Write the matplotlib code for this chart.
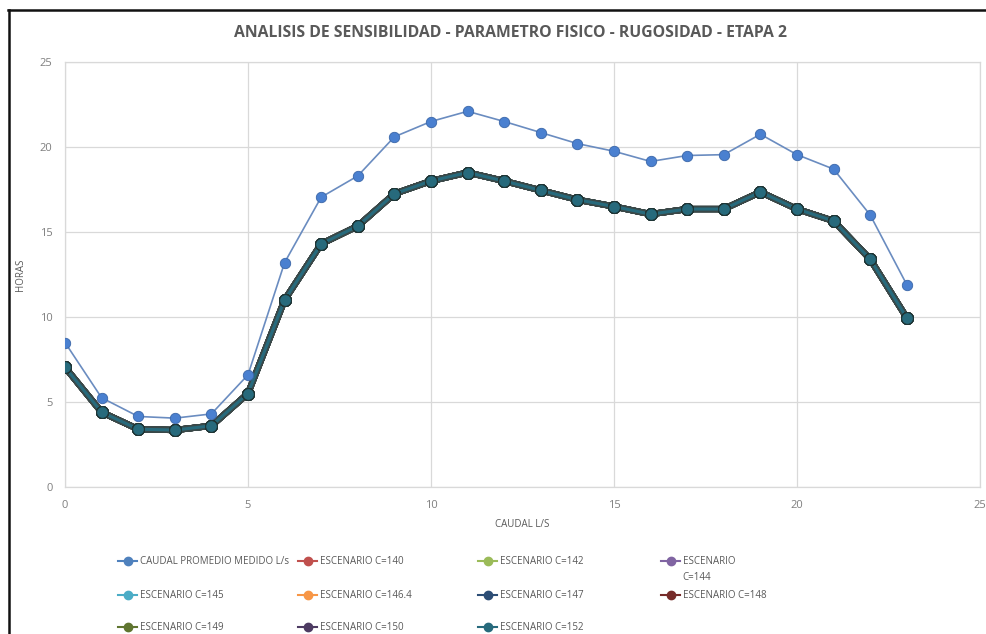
import matplotlib
matplotlib.use('Agg')
import matplotlib.pyplot as plt
from matplotlib.lines import Line2D
import matplotlib.patheffects as pe

plt.rcParams['font.family'] = ['Open Sans', 'DejaVu Sans']

# data
horas = list(range(24))
caudal_medido = [8.5, 5.25, 4.15, 4.05, 4.3, 6.6, 13.2, 17.05, 18.3, 20.6, 21.5, 22.1,
                 21.5, 20.85, 20.2, 19.75, 19.15, 19.5, 19.55, 20.75, 19.55, 18.7, 16.0, 11.9]
# all scenarios overlap in the picture
escenario = [7.05, 4.4, 3.4, 3.35, 3.6, 5.5, 11.0, 14.3, 15.35, 17.25, 18.0, 18.5,
             18.0, 17.45, 16.9, 16.5, 16.05, 16.35, 16.35, 17.35, 16.35, 15.65, 13.4, 9.95]
escenario_labels = ['ESCENARIO C=140', 'ESCENARIO C=142', 'ESCENARIO\nC=144',
                    'ESCENARIO C=145', 'ESCENARIO C=146.4', 'ESCENARIO C=147',
                    'ESCENARIO C=148', 'ESCENARIO C=149', 'ESCENARIO C=150',
                    'ESCENARIO C=152']
escenario_colors = ['#C0504D', '#9BBB59', '#8064A2', '#4BACC6', '#F79646',
                    '#2C4D75', '#772C2A', '#5F7530', '#4D3B62', '#276A7C']

fig = plt.figure(figsize=(9.86, 6.34), dpi=100)
ax = fig.add_axes([65 / 986, 1 - 487 / 634, 915 / 986, 425 / 634])

gray = '#7f7f7f'

ax.plot(horas, caudal_medido, color='#6a8cc0', lw=1.2, marker='o', ms=7.5,
        markerfacecolor='#4a80d0', markeredgecolor='#3a66a8', markeredgewidth=0.6,
        zorder=4)

for lab, col in zip(escenario_labels, escenario_colors):
    ax.plot(horas, escenario, color=col, lw=2.2,
            path_effects=[pe.Stroke(linewidth=4.5, foreground='#3a4848'), pe.Normal()],
            zorder=3)
for lab, col in zip(escenario_labels, escenario_colors):
    ax.plot(horas, escenario, ls='none', marker='o', ms=8.5,
            markerfacecolor=col, markeredgecolor='#1f3535', markeredgewidth=0.8,
            zorder=3.5)

ax.set_xlim(0, 25)
ax.set_ylim(0, 25)
ax.set_xticks([0, 5, 10, 15, 20, 25])
ax.set_yticks([0, 5, 10, 15, 20, 25])
ax.grid(True, color='#d9d9d9', lw=0.9)
ax.set_axisbelow(True)
for s in ax.spines.values():
    s.set_color('#d9d9d9')
    s.set_linewidth(0.9)
ax.tick_params(length=0, colors=gray, labelsize=8, pad=9)
ax.set_xlabel('CAUDAL L/S', color='#595959', fontsize=7, labelpad=6)
ax.set_ylabel('HORAS', color='#595959', fontsize=7, labelpad=10)

fig.text(0.518, 1 - 33 / 634, 'ANALISIS DE SENSIBILIDAD - PARAMETRO FISICO - RUGOSIDAD - ETAPA 2',
         ha='center', va='center', fontsize=11.3, fontweight='bold', color='#595959')

# legend, one entry at a time on a 4-column grid (row-wise order as in Excel)
leg_labels = ['CAUDAL PROMEDIO MEDIDO L/s'] + escenario_labels
leg_colors = ['#4F81BD'] + escenario_colors
col_x = [118 / 986, 298 / 986, 478 / 986, 661 / 986]
row_y = [1 - 562 / 634, 1 - 596 / 634, 1 - 628 / 634]
for i, (lab, col) in enumerate(zip(leg_labels, leg_colors)):
    r, c = divmod(i, 4)
    h = Line2D([], [], color=col, lw=1.5, marker='o', ms=6, markerfacecolor=col,
               markeredgecolor=col)
    first, _, rest = lab.partition('\n')
    leg = fig.legend([h], [first], loc='center left', bbox_to_anchor=(col_x[c], row_y[r]),
                     frameon=False, fontsize=7, labelcolor='#595959', handlelength=2.0,
                     handletextpad=0.3, borderpad=0, borderaxespad=0)
    if rest:
        # wrapped second line of the label, as Excel draws it
        fig.text(col_x[c] + 21 / 986, row_y[r] - 15 / 634, rest, fontsize=7,
                 color='#595959', va='center', ha='left')

# outer frame of the chart object
fig.add_artist(Line2D([8.5 / 986, 8.5 / 986], [0, 1 - 10 / 634], color='#111111', lw=1.8))
fig.add_artist(Line2D([8 / 986, 1], [1 - 10 / 634, 1 - 10 / 634], color='#111111', lw=1.8))

fig.savefig('out.png', dpi=100)
